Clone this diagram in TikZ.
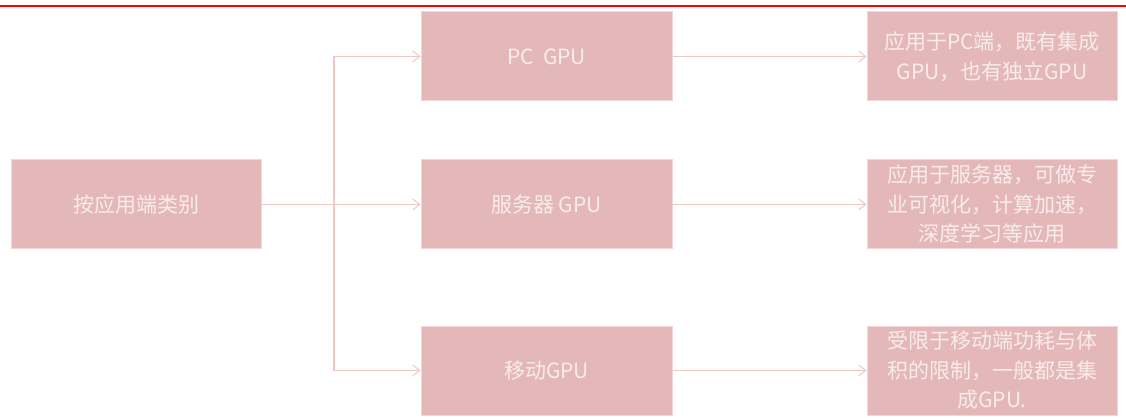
\documentclass[tikz,border=0pt]{standalone}
\usepackage{fontspec}
\setmainfont{Noto Sans CJK SC}
\usetikzlibrary{arrows.meta}
\definecolor{boxfill}{HTML}{E4B8B8}
\definecolor{boxedge}{HTML}{F2D6D6}
\definecolor{txt}{HTML}{F8ECEC}
\definecolor{conncol}{HTML}{F0C6C6}
\tikzset{
  box/.style={draw=boxedge, line width=1pt, fill=boxfill, minimum height=89pt, inner sep=2pt,
    text=txt, align=center, font=\fontsize{21pt}{29.5pt}\selectfont},
  midbox/.style={box, minimum width=251pt},
  sidebox/.style={box, minimum width=250pt},
  conn/.style={draw=conncol, line width=1.3pt, -{Straight Barb[length=7pt,width=11pt,line width=1pt]}},
}
\begin{document}
\begin{tikzpicture}[x=1pt,y=-1pt]
\useasboundingbox (0,0) rectangle (1126,419);
\fill[white] (0,0) rectangle (1126,419);
\draw[red, line width=2pt] (0,6) -- (1126,6);
\node[sidebox] (L) at (136,204.5) {按应用端类别};
\node[midbox] (P) at (546.5,56.5) {PC\ \ GPU};
\node[midbox] (S) at (546.5,204.5) {服务器\ GPU};
\node[midbox] (M) at (546.5,370.5) {移动GPU};
\node[sidebox] (PR) at (992,56.5) {应用于PC端，既有集成\\GPU，也有独立GPU};
\node[sidebox] (SR) at (992,204.5) {应用于服务器，可做专\\业可视化，计算加速，\\深度学习等应用};
\node[sidebox] (MR) at (992,370.5) {受限于移动端功耗与体\\积的限制，一般都是集\\成GPU.};
\coordinate (J) at (334,204.5);
\draw[conn] (L.east) -- (J) |- (P.west);
\draw[conn] (L.east) -- (J) |- (M.west);
\draw[conn] (L.east) -- (S.west);
\draw[conn] (P.east) -- (PR.west);
\draw[conn] (S.east) -- (SR.west);
\draw[conn] (M.east) -- (MR.west);
\end{tikzpicture}
\end{document}
